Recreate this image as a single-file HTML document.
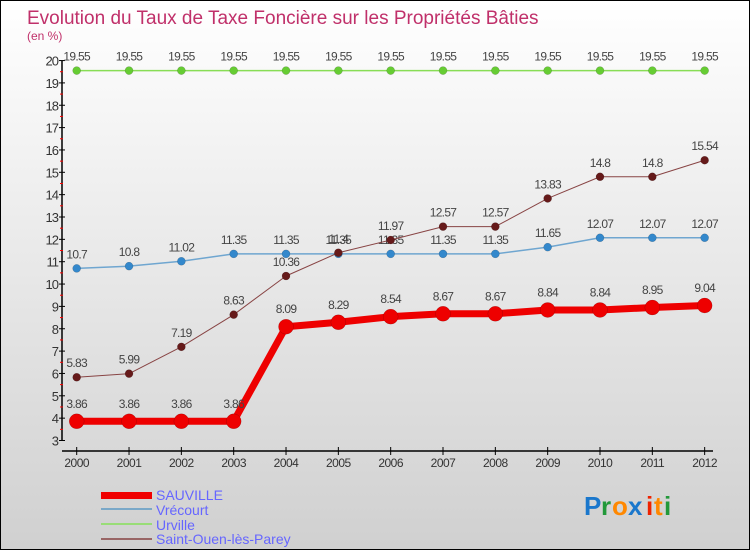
<!DOCTYPE html>
<html><head><meta charset="utf-8"><style>
body{margin:0;}
#wrap{position:relative;width:748px;height:548px;border:1px solid #000;background:linear-gradient(#ffffff,#d0d0d0);overflow:hidden;font-family:"Liberation Sans",sans-serif;}
svg text{font-family:"Liberation Sans",sans-serif;}
</style></head><body>
<div id="wrap">
<svg id="c" width="748" height="548">
<text x="26" y="23" font-size="19" fill="#c0306a" font-weight="normal">Evolution du Taux de Taxe Foncière sur les Propriétés Bâties</text>
<text x="26" y="39" font-size="12" fill="#c0306a">(en %)</text>
<g id="axes"></g><g id="series"></g>
<g>
<rect x="100" y="491" width="51" height="7" fill="#f00000"/>
<text x="155" y="499" font-size="14" fill="#6666ff">SAUVILLE</text>
<rect x="100" y="507" width="51" height="2" fill="#7aa8c8"/>
<text x="155" y="514" font-size="14" fill="#6666ff">Vrécourt</text>
<rect x="100" y="522" width="51" height="2" fill="#99dd77"/>
<text x="155" y="529" font-size="14" fill="#6666ff">Urville</text>
<rect x="100" y="537" width="51" height="2" fill="#996666"/>
<text x="155" y="543" font-size="14" fill="#6666ff">Saint-Ouen-lès-Parey</text>
</g>
<g font-size="26" font-weight="bold">
<text x="583" y="514" fill="#1a77cc">P</text><text x="600" y="514" fill="#22993a">r</text><text x="611" y="514" fill="#ff8800">o</text><text x="627" y="514" fill="#1a77cc">x</text><text x="645" y="514" fill="#ee2200">i</text><text x="653" y="514" fill="#ff8800">t</text><text x="663" y="514" fill="#22993a">i</text>
</g>
</svg>
</div>
<script>
const years=[2000,2001,2002,2003,2004,2005,2006,2007,2008,2009,2010,2011,2012];
const sauville=[3.86,3.86,3.86,3.86,8.09,8.29,8.54,8.67,8.67,8.84,8.84,8.95,9.04];
const vrecourt=[10.7,10.8,11.02,11.35,11.35,11.35,11.35,11.35,11.35,11.65,12.07,12.07,12.07];
const urville=[19.55,19.55,19.55,19.55,19.55,19.55,19.55,19.55,19.55,19.55,19.55,19.55,19.55];
const saintOuen=[5.83,5.99,7.19,8.63,10.36,11.4,11.97,12.57,12.57,13.83,14.8,14.8,15.54];
const yTicks=[3,4,5,6,7,8,9,10,11,12,13,14,15,16,17,18,19,20];
const NS="http://www.w3.org/2000/svg";
const xs=i=>75.7+i*52.33;
const ys=v=>439.5-(v-3)*22.35;
function mk(t,a,p){const e=document.createElementNS(NS,t);for(const k in a)e.setAttribute(k,a[k]);p.appendChild(e);return e;}
const ax=document.getElementById('axes');
let l=mk('line',{x1:61,y1:ys(20),x2:61,y2:ys(3),stroke:'#000','stroke-width':1.5},ax);


l=mk('line',{x1:61,y1:450,x2:712,y2:450,stroke:'#000','stroke-width':1.5},ax);


yTicks.forEach(v=>{
 mk('line',{x1:58,y1:ys(v),x2:64,y2:ys(v),stroke:'#000'},ax);
 if(v<20)mk('line',{x1:59,y1:ys(v+0.5),x2:62,y2:ys(v+0.5),stroke:'#f00'},ax);
 const t=mk('text',{x:57,y:ys(v)+5,'font-size':13,fill:'#333','text-anchor':'end','letter-spacing':'-1'},ax);
 t.textContent=v;
 
 
});
years.forEach((y,i)=>{
 mk('line',{x1:xs(i),y1:446,x2:xs(i),y2:454,stroke:'#000'},ax);
 const t=mk('text',{x:xs(i),y:466,'font-size':12,fill:'#333','text-anchor':'middle','letter-spacing':'-0.5'},ax);
 t.textContent=y;
 
 
});
const sg=document.getElementById('series');
function draw(data,name,color,pt,w,r){
 const g=mk('g',{},sg);
 
 
 const p=mk('polyline',{points:data.map((v,i)=>xs(i)+','+ys(v)).join(' '),fill:'none',stroke:color,'stroke-width':w,'stroke-linejoin':'round'},g);
 
 
 data.forEach((v,i)=>{
  const c=mk('circle',{cx:xs(i),cy:ys(v),r:r,fill:pt,stroke:'rgba(0,0,0,0.25)','stroke-width':0.5},g);
  
  
  const t=mk('text',{x:xs(i),y:ys(v)-(r+6),'font-size':12,fill:'#444','text-anchor':'middle','letter-spacing':'-0.7'},g);
  t.textContent=v;
  
  
 });
}
draw(urville,'urville','#88dd55','#66cc33',1.5,4);
draw(vrecourt,'vrecourt','#6fa6d0','#3388cc',1.5,4);
draw(saintOuen,'saint-ouen','#884444','#661a1a',1,4);
draw(sauville,'sauville','#ee0000','#ee0000',7,7.5);
</script>
</body></html>
